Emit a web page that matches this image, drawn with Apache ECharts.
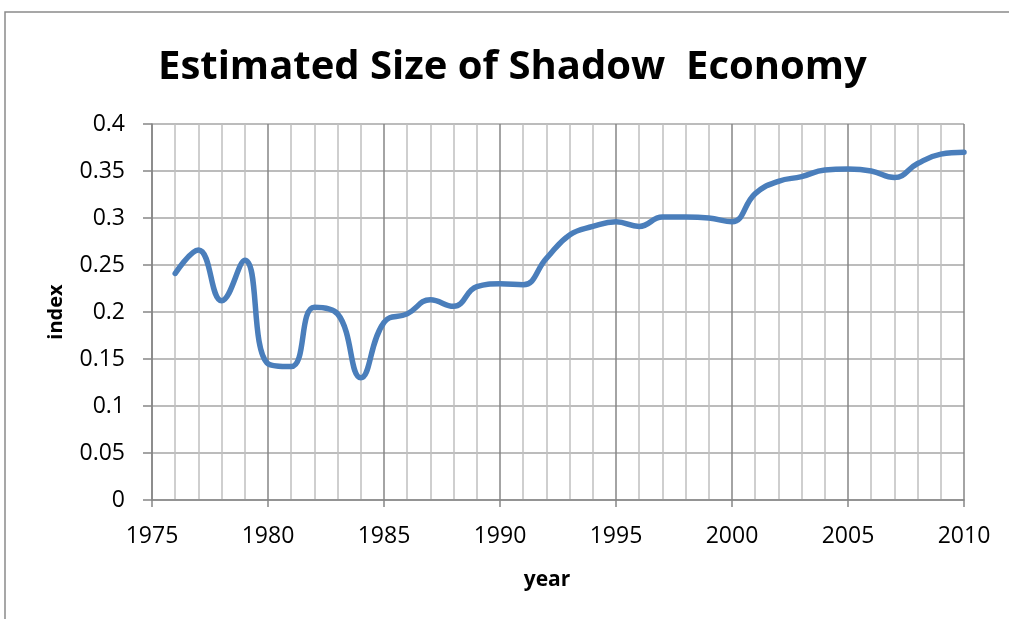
<!DOCTYPE html>
<html>
<head>
<meta charset="utf-8">
<script src="https://cdn.jsdelivr.net/npm/echarts@6/dist/echarts.min.js"></script>
<style>
  html, body { margin: 0; padding: 0; background: #fff; }
  #chart { width: 1009px; height: 619px; }
</style>
</head>
<body>
<div id="chart"></div>
<script>
// estimated shadow economy index
var years = [1976, 1977, 1978, 1979, 1980, 1981, 1982, 1983, 1984, 1985,
             1986, 1987, 1988, 1989, 1990, 1991, 1992, 1993, 1994, 1995,
             1996, 1997, 1998, 1999, 2000, 2001, 2002, 2003, 2004, 2005,
             2006, 2007, 2008, 2009, 2010];
var index_vals = [0.241, 0.266, 0.212, 0.255, 0.145, 0.142, 0.205, 0.198, 0.130, 0.189,
                  0.198, 0.213, 0.206, 0.227, 0.230, 0.229, 0.257, 0.282, 0.291, 0.296,
                  0.291, 0.301, 0.301, 0.300, 0.296, 0.326, 0.339, 0.344, 0.351, 0.352,
                  0.350, 0.343, 0.358, 0.368, 0.370];

var points = [];
for (var i = 0; i < years.length; i++){
    points.push([years[i], index_vals[i]]);
}

var chart = echarts.init(document.getElementById('chart'));
var option = {};

option['backgroundColor'] = '#ffffff';

option['title'] = {
    text: 'Estimated Size of Shadow  Economy',
    left: 153,
    top: 43,
    textStyle: {
        fontFamily: 'Open Sans',
        fontWeight: 'bold',
        fontSize: 40,
        color: '#000'
    }
};

option['grid'] = {
    left: 152,
    right: 45,
    top: 124,
    bottom: 119
};

option['xAxis'] = {
    type: 'value',
    min: 1975,
    max: 2010,
    interval: 5,
    name: 'year',
    nameLocation: 'middle',
    nameGap: 70,
    nameTextStyle: {
        fontFamily: 'Open Sans',
        fontWeight: 'bold',
        fontSize: 21,
        color: '#000',
        padding: [0, 22, 0, 0]
    },
    axisLine: { lineStyle: { color: '#868686', width: 1.5 } },
    axisTick: { show: true, length: 7, lineStyle: { color: '#868686', width: 1.5 } },
    axisLabel: {
        margin: 25,
        fontFamily: 'Open Sans',
        fontSize: 23,
        color: '#000',
        formatter: function (v) { return String(v); }
    },
    splitLine: { show: true, lineStyle: { color: '#868686', width: 1.5 } },
    minorTick: { show: false, splitNumber: 5 },
    minorSplitLine: { show: true, lineStyle: { color: '#c0c0c0', width: 1.5 } }
};

option['yAxis'] = {
    type: 'value',
    min: 0,
    max: 0.4,
    interval: 0.05,
    name: 'index',
    nameLocation: 'middle',
    nameGap: 86,
    nameTextStyle: {
        fontFamily: 'Open Sans',
        fontWeight: 'bold',
        fontSize: 20,
        color: '#000'
    },
    axisLine: { show: true, lineStyle: { color: '#868686', width: 1.5 } },
    axisTick: { show: true, length: 9, lineStyle: { color: '#868686', width: 1.5 } },
    axisLabel: {
        margin: 27,
        fontFamily: 'Open Sans',
        fontSize: 23,
        color: '#000',
        formatter: function (v) { return String(Math.round(v * 100) / 100); }
    },
    splitLine: { show: true, lineStyle: { color: '#a6a6a6', width: 1.5 } }
};

option['series'] = [{
    name: 'index',
    type: 'line',
    data: points,
    smooth: 0.45,
    showSymbol: false,
    lineStyle: { color: '#4a7ebb', width: 5.5, cap: 'round' },
    itemStyle: { color: '#4a7ebb' }
}];

option['graphic'] = [{
    type: 'rect',
    silent: true,
    shape: { x: 5, y: 12, width: 1020, height: 640 },
    style: { fill: 'none', stroke: '#8a8a8a', lineWidth: 1.5 }
}];

option && chart.setOption(option);
</script>
</body>
</html>
